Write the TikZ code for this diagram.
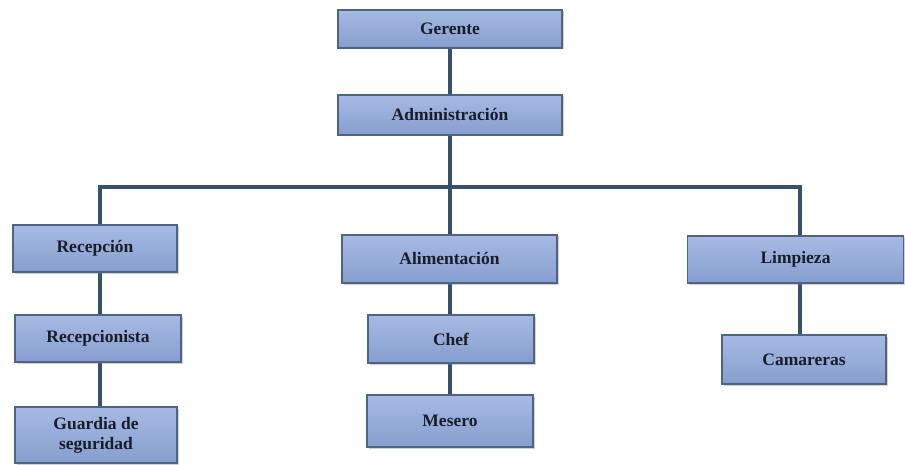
\documentclass[tikz,border=0pt]{standalone}
\usepackage{fontspec}
\setmainfont{Liberation Serif}
\usetikzlibrary{shadows,backgrounds}
\definecolor{boxtop}{HTML}{A6BAE2}
\definecolor{boxbot}{HTML}{869ECF}
\definecolor{boxline}{HTML}{4F6385}
\definecolor{conn}{HTML}{37506B}
\definecolor{txt}{HTML}{1A1D2B}
\tikzset{
  orgbox/.style={draw=boxline, line width=1.4pt, top color=boxtop, bottom color=boxbot,
    text=txt, font=\fontsize{17.5}{20}\selectfont\bfseries, align=center, inner sep=0pt,
    drop shadow={opacity=0.35, shadow xshift=1.5pt, shadow yshift=-1.5pt}},
  link/.style={draw=conn, line width=3.2pt}
}
\begin{document}
\begin{tikzpicture}[x=1pt,y=-1pt]
\useasboundingbox (0,0) rectangle (905,465);
\node[orgbox, minimum width=224pt, minimum height=38pt] (ger) at (450,29) {Gerente};
\node[orgbox, minimum width=224pt, minimum height=40pt] (adm) at (450,115) {Administración};
\node[orgbox, minimum width=164pt, minimum height=47pt] (rec) at (95,248.5) {Recepción};
\node[orgbox, minimum width=166pt, minimum height=47pt] (rcp) at (98,338.5) {Recepcionista};
\node[orgbox, minimum width=162pt, minimum height=56pt] (gua) at (96,435) {Guardia de\\seguridad};
\node[orgbox, minimum width=215pt, minimum height=48pt] (ali) at (449.5,259) {Alimentación};
\node[orgbox, minimum width=166pt, minimum height=48pt] (che) at (451,339) {Chef};
\node[orgbox, minimum width=166pt, minimum height=52pt] (mes) at (450,421) {Mesero};
\node[orgbox, minimum width=216pt, minimum height=47pt] (lim) at (795.5,259.5) {Limpieza};
\node[orgbox, minimum width=164pt, minimum height=49pt] (cam) at (804,359.5) {Camareras};
\coordinate (lx) at (100,187);
\coordinate (mx) at (450,187);
\coordinate (rx) at (800,187);
\begin{pgfonlayer}{background}
\fill[white] (0,0) rectangle (905,465);
\draw[link] (ger.south -| mx) -- (adm.north -| mx);
\draw[link] (adm.south -| mx) -- (ali.north -| mx);
\draw[link, line join=miter] (rec.north -| lx) -- (lx) -- (rx) -- (lim.north -| rx);
\draw[link] (rec.south -| lx) -- (rcp.north -| lx);
\draw[link] (rcp.south -| lx) -- (gua.north -| lx);
\draw[link] (ali.south -| mx) -- (che.north -| mx);
\draw[link] (che.south -| mx) -- (mes.north -| mx);
\draw[link] (lim.south -| rx) -- (cam.north -| rx);
\end{pgfonlayer}
\end{tikzpicture}
\end{document}
